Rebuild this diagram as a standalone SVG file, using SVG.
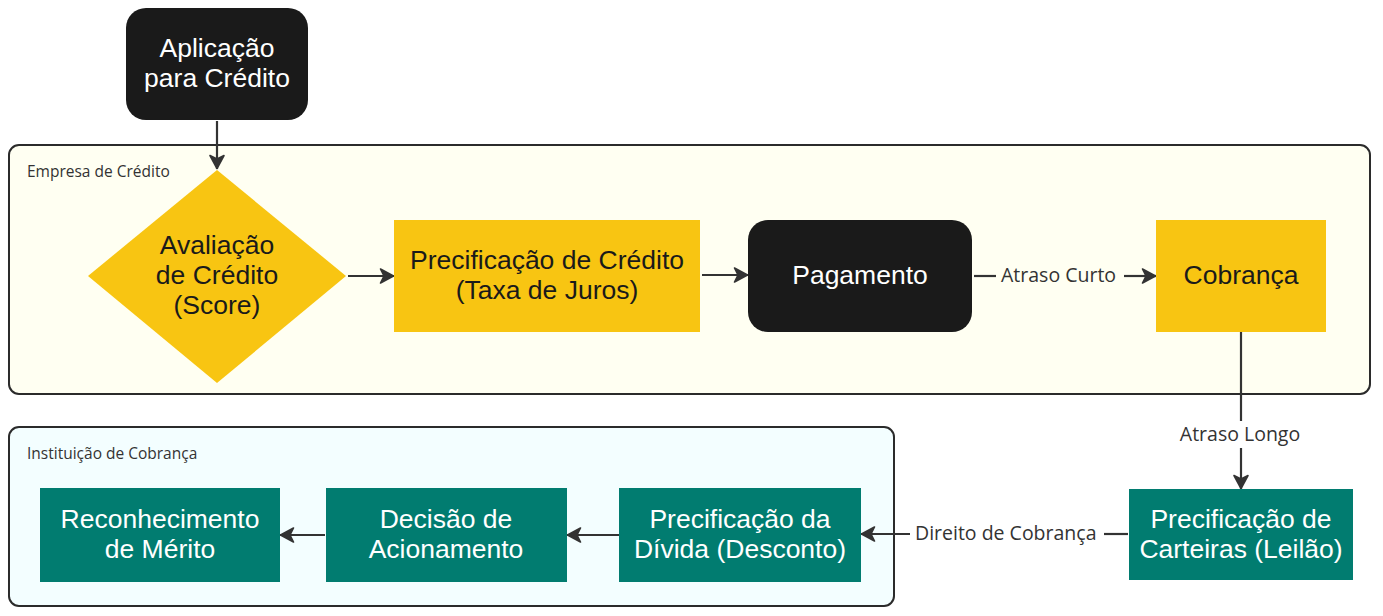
<svg xmlns="http://www.w3.org/2000/svg" width="1383" height="616" viewBox="0 0 1383 616">
<style>
.container{stroke:#2b2b2b;stroke-width:2}
.clabel{font-family:"Open Sans","DejaVu Sans",sans-serif;font-size:15.5px;fill:#333}
.elabel{font-family:"Open Sans","DejaVu Sans",sans-serif;font-size:19.5px;fill:#333}
.ntext{font-family:"Liberation Sans",Arial,sans-serif;font-size:26.5px;text-anchor:middle}
.light{fill:#ffffff}
.dark{fill:#1a1a1a}
.black{fill:#1a1a1a}
.yellow{fill:#f8c512}
.teal{fill:#017c70}
.conn{stroke:#333;stroke-width:2.2;fill:none}
</style>
<defs>
<marker id="arrow" viewBox="0 0 16 18" refX="15" refY="9" markerWidth="16" markerHeight="18" markerUnits="userSpaceOnUse" orient="auto">
<path d="M1.5,2 L14.5,9 L1.5,16 L5,9 Z" fill="#333" stroke="#333" stroke-width="1.6" stroke-linejoin="round"/>
</marker>
</defs>
<rect width="1383" height="616" fill="#ffffff"/>
<g id="empresa-de-credito">
<rect class="container" x="9" y="145" width="1361" height="249" rx="10" fill="#fffff2"/>
<text class="clabel" x="27" y="177">Empresa de Crédito</text>
</g>
<g id="instituicao-de-cobranca">
<rect class="container" x="9" y="427" width="885" height="179" rx="10" fill="#f3feff"/>
<text class="clabel" x="27" y="459">Instituição de Cobrança</text>
</g>
<g id="connectors">
<line class="conn" x1="217" y1="121" x2="217" y2="169" marker-end="url(#arrow)"/>
<line class="conn" x1="348" y1="276" x2="394" y2="276" marker-end="url(#arrow)"/>
<line class="conn" x1="702" y1="275" x2="748" y2="275" marker-end="url(#arrow)"/>
<line class="conn" x1="974" y1="276" x2="996" y2="276"/>
<text class="elabel" x="1001" y="282">Atraso Curto</text>
<line class="conn" x1="1124" y1="276" x2="1156" y2="276" marker-end="url(#arrow)"/>
<line class="conn" x1="1241" y1="332" x2="1241" y2="421"/>
<text class="elabel" x="1240" y="441" text-anchor="middle">Atraso Longo</text>
<line class="conn" x1="1241" y1="448" x2="1241" y2="489" marker-end="url(#arrow)"/>
<line class="conn" x1="1128" y1="534" x2="1104" y2="534"/>
<text class="elabel" x="915" y="540">Direito de Cobrança</text>
<line class="conn" x1="910" y1="534" x2="861" y2="534" marker-end="url(#arrow)"/>
<line class="conn" x1="619" y1="535" x2="567" y2="535" marker-end="url(#arrow)"/>
<line class="conn" x1="325" y1="535" x2="280" y2="535" marker-end="url(#arrow)"/>
</g>
<g id="aplicacao">
<rect class="black" x="126" y="8" width="182" height="112" rx="20"/>
<text class="ntext light" x="217" y="57">Aplicação</text>
<text class="ntext light" x="217" y="87">para Crédito</text>
</g>
<g id="avaliacao">
<polygon class="yellow" points="217,170 346,276 217,383 88,276"/>
<text class="ntext dark" x="217" y="254">Avaliação</text>
<text class="ntext dark" x="217" y="284">de Crédito</text>
<text class="ntext dark" x="217" y="314">(Score)</text>
</g>
<g id="precificacao-credito">
<rect class="yellow" x="394" y="220" width="306" height="112"/>
<text class="ntext dark" x="547" y="269">Precificação de Crédito</text>
<text class="ntext dark" x="547" y="299">(Taxa de Juros)</text>
</g>
<g id="pagamento">
<rect class="black" x="748" y="220" width="224" height="112" rx="20"/>
<text class="ntext light" x="860" y="284">Pagamento</text>
</g>
<g id="cobranca">
<rect class="yellow" x="1156" y="220" width="170" height="112"/>
<text class="ntext dark" x="1241" y="284">Cobrança</text>
</g>
<g id="precificacao-carteiras">
<rect class="teal" x="1129" y="489" width="224" height="91"/>
<text class="ntext light" x="1241" y="528">Precificação de</text>
<text class="ntext light" x="1241" y="558">Carteiras (Leilão)</text>
</g>
<g id="precificacao-divida">
<rect class="teal" x="619" y="488" width="242" height="94"/>
<text class="ntext light" x="740" y="528">Precificação da</text>
<text class="ntext light" x="740" y="558">Dívida (Desconto)</text>
</g>
<g id="decisao">
<rect class="teal" x="326" y="488" width="241" height="94"/>
<text class="ntext light" x="446" y="528">Decisão de</text>
<text class="ntext light" x="446" y="558">Acionamento</text>
</g>
<g id="reconhecimento">
<rect class="teal" x="40" y="488" width="240" height="94"/>
<text class="ntext light" x="160" y="528">Reconhecimento</text>
<text class="ntext light" x="160" y="558">de Mérito</text>
</g>
</svg>
